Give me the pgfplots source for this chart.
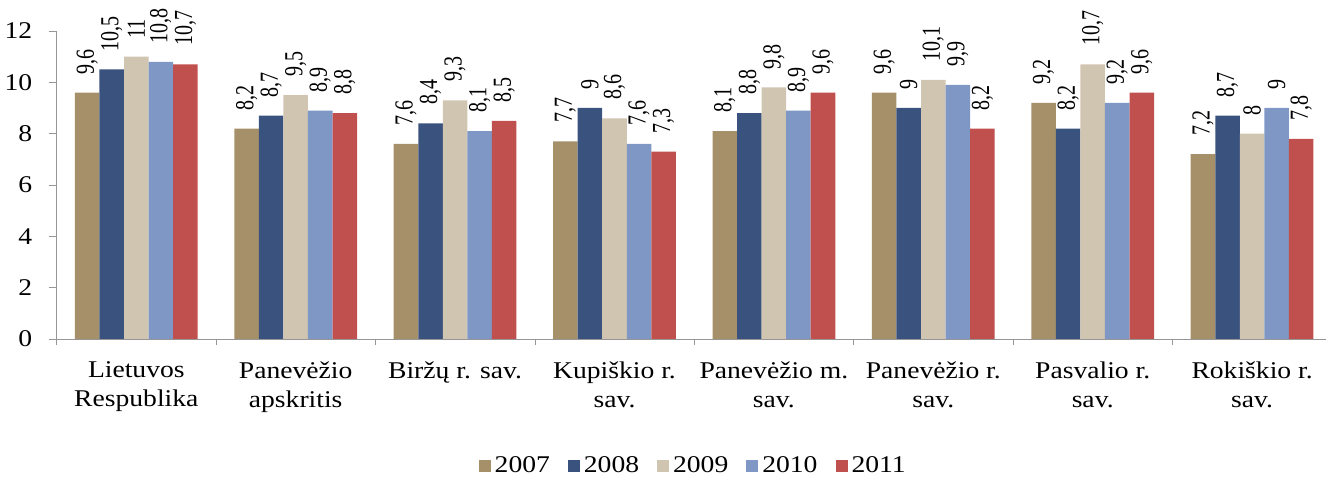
\documentclass[border=0pt]{standalone}
\usepackage{fontspec}
\setmainfont{Liberation Serif}[FakeStretch=1.15]
\newfontfamily\tnr{Liberation Serif}[FakeStretch=1.15]
\newfontfamily\tnrn{Liberation Serif}
\usepackage{pgfplots}
\pgfplotsset{compat=1.18}
\definecolor{c7}{RGB}{166,144,106}
\definecolor{c8}{RGB}{58,82,126}
\definecolor{c9}{RGB}{208,197,176}
\definecolor{c10}{RGB}{127,151,196}
\definecolor{c11}{RGB}{192,80,77}
\definecolor{axgray}{RGB}{150,150,150}
\newcommand{\ff}{\tnr\fontsize{12}{14.5}\selectfont}
\newcommand{\fl}{\tnrn\fontsize{10}{12}\selectfont}
\begin{document}
\ff
\begin{tikzpicture}[font=\ff]
\begin{axis}[
  at={(0,0)}, anchor=south west,
  scale only axis, width=637.6pt, height=154pt,
  xmin=-0.5, xmax=7.5, ymin=0, ymax=12,
  ytick={0,2,...,12},
  xtick={0,...,7},
  xticklabels={Lietuvos\\Respublika, Panevėžio\\apskritis, Biržų r. sav., Kupiškio r.\\sav., Panevėžio m.\\sav., Panevėžio r.\\sav., Pasvalio r.\\sav., Rokiškio r.\\sav.},
  xticklabel style={align=center, font=\ff, yshift=-3pt},
  yticklabel style={font=\ff, xshift=-4pt},
  minor xtick={-0.5,0.5,...,7.5},
  major x tick style={draw=none},
  minor x tick style={axgray},
  ytick style={axgray},
  axis x line*=bottom, axis y line*=left,
  axis line style={axgray},
  tick align=outside,
  major tick length=4pt, minor tick length=3pt,
  /pgf/number format/assume math mode=true,
  /pgf/number format/use comma,
  ybar, bar width=0.154,
  nodes near coords,
  every node near coord/.append style={rotate=90, anchor=west, inner sep=1pt, xshift=8pt, yscale=1.3, font=\fl, text=black},
  legend columns=5,
  legend style={at={(0.5,-0.415)}, anchor=center, draw=none, font=\ff,
    /tikz/every even column/.append style={column sep=7pt}},
  legend image code/.code={\fill[#1] (0pt,-2.6pt) rectangle (6pt,3.4pt);},
  clip=false,
]
\addplot[fill=c7, draw=none, bar shift=-0.308] coordinates {(0,9.6) (1,8.2) (2,7.6) (3,7.7) (4,8.1) (5,9.6) (6,9.2) (7,7.2)};
\addplot[fill=c8, draw=none, bar shift=-0.154] coordinates {(0,10.5) (1,8.7) (2,8.4) (3,9) (4,8.8) (5,9) (6,8.2) (7,8.7)};
\addplot[fill=c9, draw=none, bar shift=0] coordinates {(0,11) (1,9.5) (2,9.3) (3,8.6) (4,9.8) (5,10.1) (6,10.7) (7,8)};
\addplot[fill=c10, draw=none, bar shift=0.154] coordinates {(0,10.8) (1,8.9) (2,8.1) (3,7.6) (4,8.9) (5,9.9) (6,9.2) (7,9)};
\addplot[fill=c11, draw=none, bar shift=0.308] coordinates {(0,10.7) (1,8.8) (2,8.5) (3,7.3) (4,9.6) (5,8.2) (6,9.6) (7,7.8)};
\legend{2007,2008,2009,2010,2011}
\end{axis}
\pgfresetboundingbox
\path[use as bounding box] (-28.3pt,-70.25pt) rectangle (634.7pt,169.5pt);
\end{tikzpicture}
\end{document}
